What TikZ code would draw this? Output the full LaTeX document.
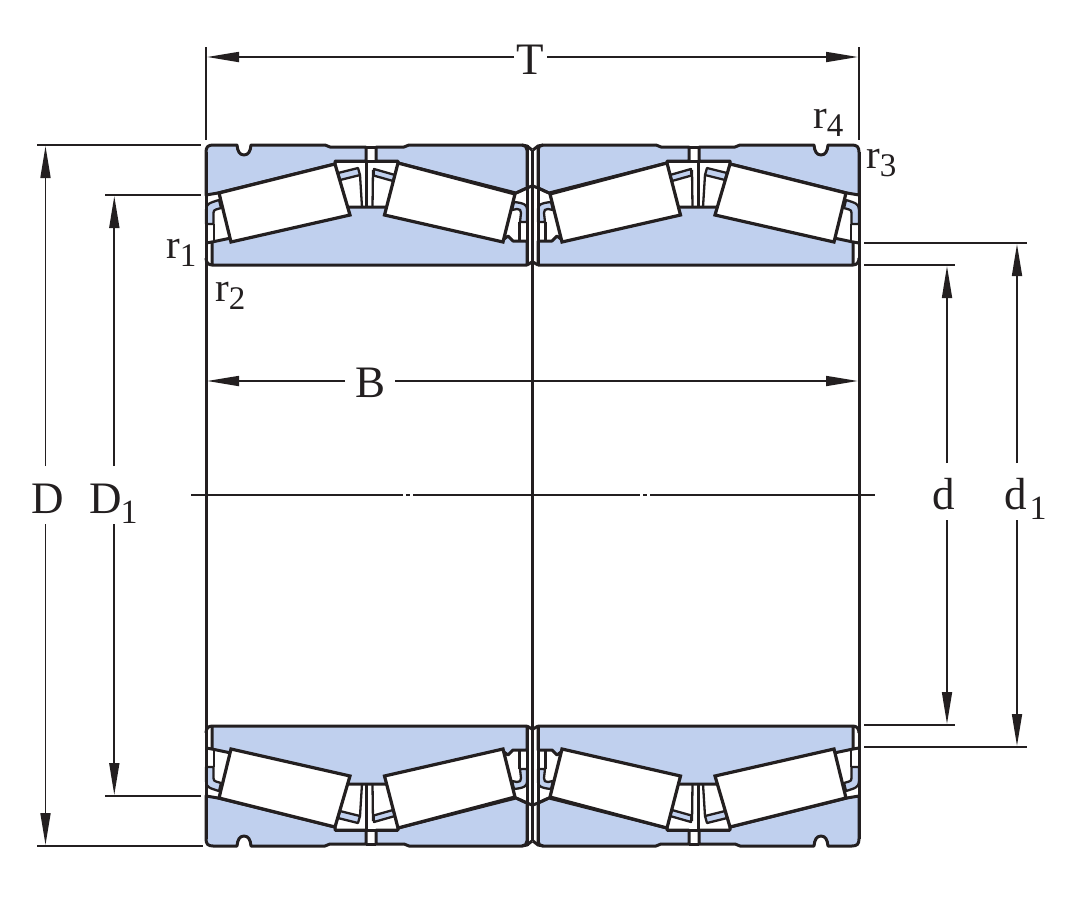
\documentclass[tikz,border=0pt]{standalone}
\usepackage{fontspec}
\setmainfont{Liberation Serif}
\usetikzlibrary{arrows.meta}
\definecolor{ringblue}{HTML}{C0D0EE}
\definecolor{ink}{HTML}{231F20}
\newcommand{\biglab}[1]{\fontsize{45}{45}\selectfont #1}
\newcommand{\biglabsub}[3]{\fontsize{45}{45}\selectfont #1\hspace{#3}\raisebox{-10pt}{\fontsize{34}{34}\selectfont #2}}
\newcommand{\rlab}[2]{\fontsize{41}{41}\selectfont #1\raisebox{-8pt}{\fontsize{33}{33}\selectfont #2}}
\tikzset{
  ring/.style={fill=ringblue,draw=ink,line width=3pt,line join=round},
  cagepart/.style={fill=ringblue,draw=ink,line width=2.3pt,line join=round},
  roller/.style={fill=white,draw=ink,line width=3.2pt,line join=miter},
  edge/.style={draw=ink,line width=3pt,line join=round},
  boreline/.style={draw=ink,line width=3pt},
  thinedge/.style={draw=ink,line width=2.3pt,line join=round},
  dimtip/.style={draw=ink,line width=1.7pt,-{Stealth[length=32pt,width=10pt,inset=0pt]}},
  extline/.style={draw=ink,line width=1.7pt},
  lab/.style={text=ink,inner sep=0pt}
}
\newcommand{\bearingquad}{%
  % outer ring, left part
  \path[ring] (206,152) .. controls (206,147) and (208,145) .. (213,145) -- (237,145)
    .. controls (237.5,151) and (239.5,155) .. (244,155) .. controls (248.5,155) and (250.5,151) .. (251,145)
    -- (325,145) -- (330,147) -- (366,147) -- (366,161) -- (335,161) -- (335,164) -- (218,193) -- (206,195) -- cycle;
  % outer ring, right part
  \path[ring] (376,147) -- (404,147) -- (409,145) -- (522,145) .. controls (525,145) and (527,147) .. (527,150)
    -- (527,188) -- (516,193) -- (398,163) -- (398,161) -- (376,161) -- cycle;
  % slot
  \draw[edge] (366,147) -- (376,147);
  \draw[edge] (335,161) -- (398,161);
  % inner ring
  \path[ring] (212,242) -- (231,238) -- (348,207) -- (386,207) -- (504,239) -- (508,236) -- (513,241) -- (527,241)
    -- (527,265) -- (212,265) -- cycle;
  \draw[edge] (206,243) -- (212,242);
  \draw[edge] (206,258) .. controls (206,262) and (208,265) .. (212,265);
  % end cages
  \path[cagepart] (206,224) -- (206,210) .. controls (206,204) and (209,203) .. (219,200) -- (221,208) -- (216,209.5)
    .. controls (214,210) and (213.5,211) .. (213.5,213) -- (213.5,224) -- cycle;
  \draw[thinedge] (214,224) -- (214,241);
  \path[cagepart] (527,222) -- (527,209) .. controls (527,205) and (524,203) .. (514,202) -- (512,210) -- (517,209)
    .. controls (520,209) and (521,210) .. (521,213) -- (520,222) -- cycle;
  \draw[thinedge] (519.5,222) -- (519.5,241);
  % middle cages
  \path[cagepart] (338,173) -- (358,168) -- (360,175) -- (340,180) -- cycle;
  \path[cagepart] (374,169) -- (395,175) -- (393,181) -- (373.5,175.5) -- cycle;
  \draw[thinedge] (360,175) -- (362,207);
  \draw[thinedge] (366.5,161) -- (366.5,207);
  \draw[thinedge] (373,170) -- (372.5,207);
  % rollers
  \path[roller] (219,193) -- (335,164) -- (350,215) -- (231,242) -- cycle;
  \path[roller] (398,163) -- (515,194) -- (503,242) -- (384.5,215) -- cycle;
  % centre roof
  \draw[edge] (516,193) -- (527,188) -- (532,186);
  \draw[edge] (522,145) -- (527,146) -- (532,150);
  \draw[edge] (527,265) -- (532,262);
  \draw[edge] (527,145) -- (527,265);
}
\begin{document}
\begin{tikzpicture}[x=1pt,y=-1pt]
\useasboundingbox (0,0) rectangle (1080,900);
% bearing quadrants
\begin{scope}\bearingquad\end{scope}
\begin{scope}[shift={(1065,0)},xscale=-1]\bearingquad\end{scope}
\begin{scope}[shift={(0,991)},yscale=-1]\bearingquad\end{scope}
\begin{scope}[shift={(1065,991)},xscale=-1,yscale=-1]\bearingquad\end{scope}
% bore lines
\coordinate (boreAt) at (206,152); \coordinate (boreAb) at (206,839);
\coordinate (boreBt) at (532,150); \coordinate (boreBb) at (532,841);
\coordinate (boreCt) at (859,152); \coordinate (boreCb) at (859,839);
\draw[boreline] (boreAt) -- (boreAb);
\draw[boreline] (boreBt) -- (boreBb);
\draw[boreline] (boreCt) -- (boreCb);
% centre line
\coordinate (cl0) at (191,495); \coordinate (cl1) at (403,495);
\coordinate (cl2) at (406,495); \coordinate (cl3) at (410,495);
\coordinate (cl4) at (413,495); \coordinate (cl5) at (640,495);
\coordinate (cl6) at (643,495); \coordinate (cl7) at (647,495);
\coordinate (cl8) at (650,495); \coordinate (cl9) at (875,495);
\draw[extline] (cl0) -- (cl1) (cl2) -- (cl3) (cl4) -- (cl5) (cl6) -- (cl7) (cl8) -- (cl9);
% extension lines
\coordinate (e1a) at (206,47); \coordinate (e1b) at (206,140);
\coordinate (e2a) at (859,47); \coordinate (e2b) at (859,140);
\coordinate (e3a) at (37,145); \coordinate (e3b) at (201,145);
\coordinate (e4a) at (37,846); \coordinate (e4b) at (203,846);
\coordinate (e5a) at (105,195); \coordinate (e5b) at (201,195);
\coordinate (e6a) at (105,796); \coordinate (e6b) at (201,796);
\coordinate (e7a) at (864,265); \coordinate (e7b) at (955,265);
\coordinate (e8a) at (864,725); \coordinate (e8b) at (955,725);
\coordinate (e9a) at (864,243); \coordinate (e9b) at (1027,243);
\coordinate (e10a) at (864,747); \coordinate (e10b) at (1027,747);
\foreach \n in {1,...,10} \draw[extline] (e\n a) -- (e\n b);
% dimension labels
\node[lab,anchor=base] (T) at (530,74) {\biglab{T}};
\node[lab,anchor=base] (B) at (371,397) {\biglab{B}};
\node[lab,anchor=base] (D) at (48,513) {\biglab{D}};
\node[lab,anchor=base west] (Done) at (89,513) {\biglabsub{D}{1}{-1pt}};
\node[lab,anchor=base] (dd) at (943.5,509) {\biglab{d}};
\node[lab,anchor=base west] (done) at (1004,509) {\biglabsub{d}{1}{3pt}};
\node[lab,anchor=base west] (rone) at (166,258) {\rlab{r}{1}};
\node[lab,anchor=base west] (rtwo) at (215,301) {\rlab{r}{2}};
\node[lab,anchor=base west] (rthree) at (866,168) {\rlab{r}{3}};
\node[lab,anchor=base west] (rfour) at (813,128) {\rlab{r}{4}};
% dimension arrows
\coordinate (Tl) at (207,57); \coordinate (Tr) at (858,57);
\coordinate (Tgl) at (514,57); \coordinate (Tgr) at (547,57);
\coordinate (Bl) at (207,381); \coordinate (Br) at (858,381);
\coordinate (Bgl) at (345,381); \coordinate (Bgr) at (395,381);
\coordinate (Dt) at (45.5,146); \coordinate (Db) at (45.5,845);
\coordinate (Dgt) at (45.5,466); \coordinate (Dgb) at (45.5,524);
\coordinate (Eat) at (114.3,196); \coordinate (Eab) at (114.3,795);
\coordinate (Egt) at (114.3,466); \coordinate (Egb) at (114.3,524);
\coordinate (dt) at (947,266); \coordinate (db) at (947,724);
\coordinate (dgt) at (947,463); \coordinate (dgb) at (947,520);
\coordinate (Ft) at (1017,244); \coordinate (Fb) at (1017,746);
\coordinate (Fgt) at (1017,463); \coordinate (Fgb) at (1017,520);
\draw[dimtip] (Tgl) -- (Tl);
\draw[dimtip] (Tgr) -- (Tr);
\draw[dimtip] (Bgl) -- (Bl);
\draw[dimtip] (Bgr) -- (Br);
\draw[dimtip] (Dgt) -- (Dt);
\draw[dimtip] (Dgb) -- (Db);
\draw[dimtip] (Egt) -- (Eat);
\draw[dimtip] (Egb) -- (Eab);
\draw[dimtip] (dgt) -- (dt);
\draw[dimtip] (dgb) -- (db);
\draw[dimtip] (Fgt) -- (Ft);
\draw[dimtip] (Fgb) -- (Fb);
\end{tikzpicture}
\end{document}
